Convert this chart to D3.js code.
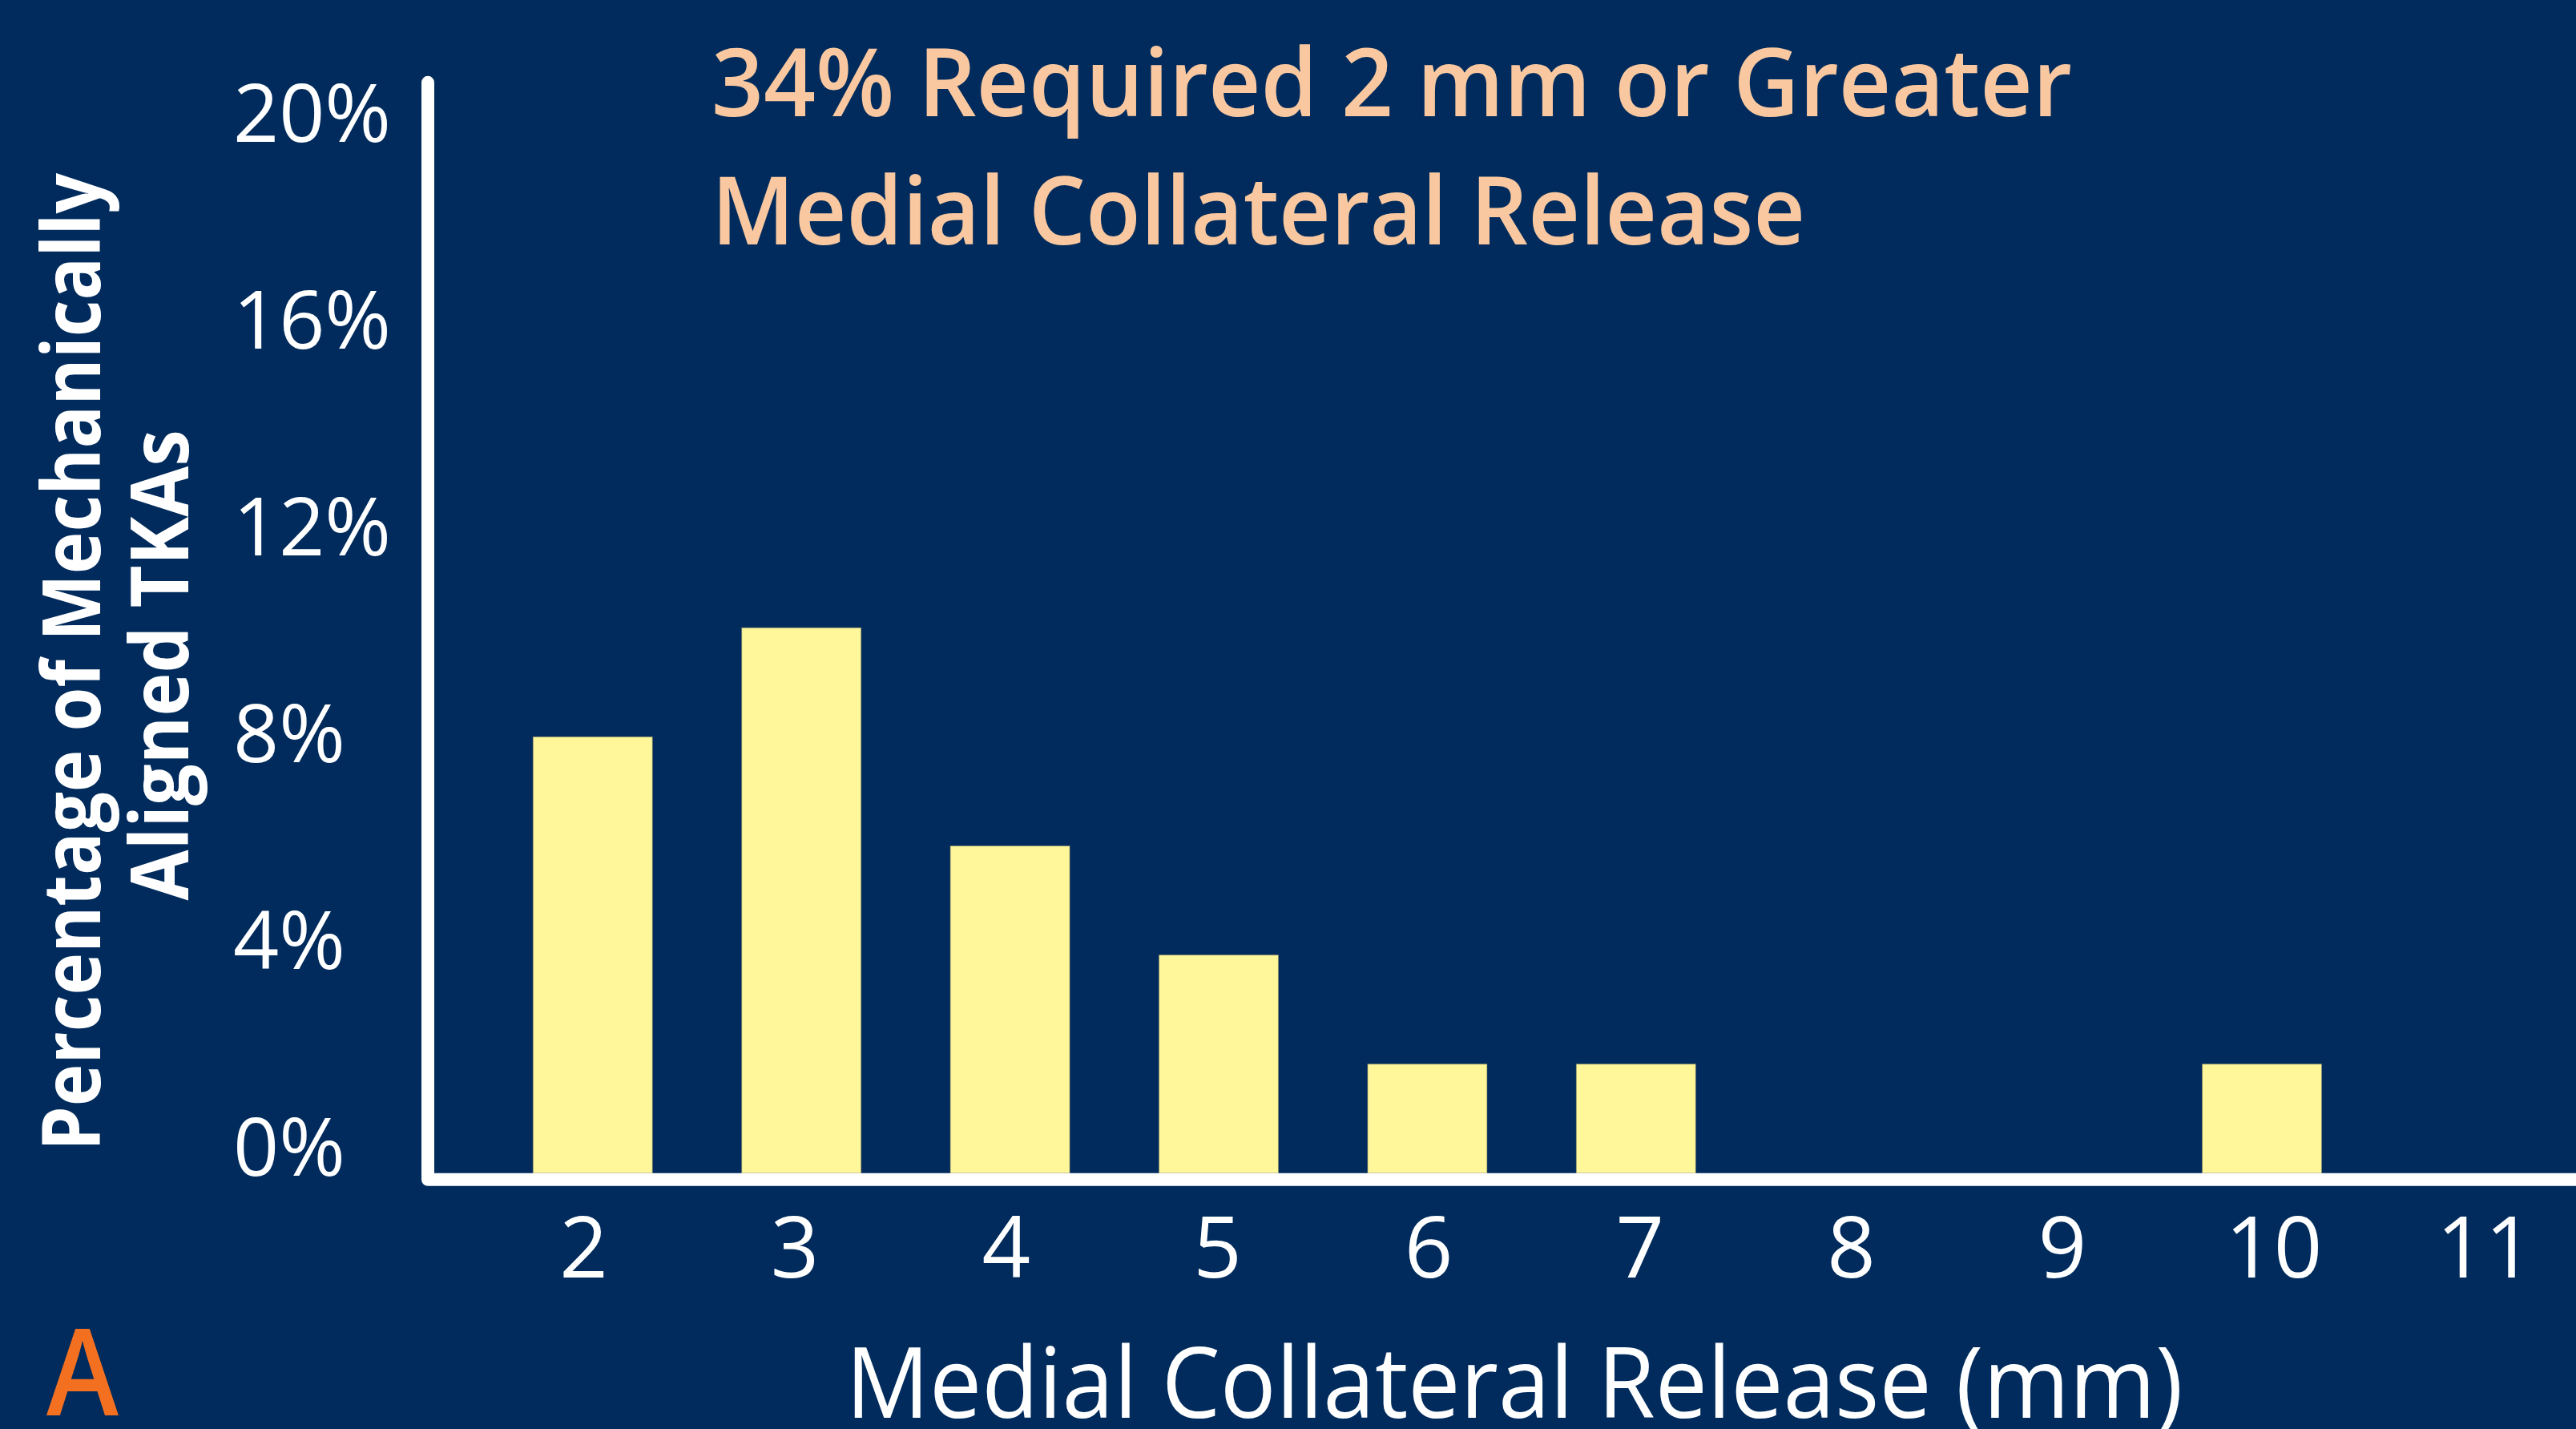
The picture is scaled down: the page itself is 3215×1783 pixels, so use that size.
<!DOCTYPE html>
<html>
<head>
<meta charset="utf-8">
<script src="https://cdn.jsdelivr.net/npm/d3@7"></script>
<style>
  html, body { margin: 0; padding: 0; background: #002B5C; }
  svg { display: block; }
</style>
</head>
<body>
<svg id="chart" width="3215" height="1783"></svg>
<script>
// ---- data ----
const categories = ["2", "3", "4", "5", "6", "7", "8", "9", "10", "11"];
const values = [8, 10, 6, 4, 2, 2, 0, 0, 2, 0];           // percent of TKAs
const yTickValues = [0, 4, 8, 12, 16, 20];
const yTickLabels = ["0%", "4%", "8%", "12%", "16%", "20%"];
const titleLines = ["34% Required 2 mm or Greater", "Medial Collateral Release"];
const yTitleLines = ["Percentage of Mechanically", "Aligned TKAs"];
const xTitle = "Medial Collateral Release (mm)";
const panelLabel = "A";

// ---- layout ----
const W = 3215, H = 1783;
const BG = "#002B5C", BAR = "#FFF799", PEACH = "#FAC8A0", ORANGE = "#F37021";
const svg = d3.select("#chart");
svg.append("rect").attr("width", W).attr("height", H).attr("fill", BG);

const FONT = "'Open Sans', 'Noto Sans', sans-serif";

// bars scale
const x = d3.scaleBand().domain(categories).range([665.3, 3157.9]).paddingInner(0.428).paddingOuter(0);
const y = d3.scaleLinear().domain([0, 20]).range([1463.8, 102.8]);

// label scales (labels in the figure sit slightly apart from the bar grid)
const xLab = d3.scalePoint().domain(categories).range([728, 3101]);
const yLab = d3.scaleLinear().domain([0, 20]).range([1466, 176]);

function fit(sel, len) {
  sel.attr("textLength", len).attr("lengthAdjust", "spacingAndGlyphs");
}

// bars
svg.append("g").selectAll("rect")
  .data(categories.map((c, i) => ({ c, v: values[i] })).filter(d => d.v > 0))
  .join("rect")
  .attr("x", d => x(d.c))
  .attr("width", x.bandwidth())
  .attr("y", d => y(d.v))
  .attr("height", d => y(0) - y(d.v))
  .attr("fill", BAR)
  .attr("stroke", "#8f8a6a")
  .attr("stroke-width", 1)
  .attr("stroke-opacity", 0.5);

// axis lines (L-shape)
const ax0 = 534, ay0 = y(0) + 8;
svg.append("path")
  .attr("d", `M${ax0},${y(20)} V${ay0} H${W + 20}`)
  .attr("fill", "none")
  .attr("stroke", "#ffffff")
  .attr("stroke-width", 16)
  .attr("stroke-linecap", "round")
  .attr("stroke-linejoin", "round");

// y tick labels
const yAxis = d3.axisLeft(yLab).tickValues(yTickValues)
  .tickFormat((d, i) => yTickLabels[i]).tickSize(0).tickPadding(0);
const gy = svg.append("g").attr("transform", "translate(291,0)").call(yAxis);
gy.select(".domain").remove();
gy.selectAll("text")
  .attr("x", 0).attr("dy", 0)
  .attr("text-anchor", "start")
  .attr("fill", "#ffffff")
  .style("font-family", FONT)
  .style("font-size", "100px")
  .style("font-weight", 400);

// x tick labels
const xAxis = d3.axisBottom(xLab).tickSize(0).tickPadding(0);
const gx = svg.append("g").attr("transform", "translate(0,1594)").call(xAxis);
gx.select(".domain").remove();
gx.selectAll("text")
  .attr("y", 0).attr("dy", 0)
  .attr("fill", "#ffffff")
  .style("font-family", FONT)
  .style("font-size", "106px")
  .style("font-weight", 400);

// title
const titleSizes = [1698, 1365];
const titleBase = [145, 305];
titleLines.forEach((t, i) => {
  svg.append("text")
    .attr("x", 888).attr("y", titleBase[i])
    .attr("fill", PEACH)
    .style("font-family", FONT)
    .style("font-size", "118px")
    .style("font-weight", 600)
    .text(t)
    .call(fit, titleSizes[i]);
});

// y axis title (rotated)
const yT = [{ bx: 125, cy: 826, len: 1220 }, { bx: 235, cy: 830, len: 587 }];
yTitleLines.forEach((t, i) => {
  svg.append("text")
    .attr("transform", `translate(${yT[i].bx},${yT[i].cy}) rotate(-90)`)
    .attr("text-anchor", "middle")
    .attr("fill", "#ffffff")
    .style("font-family", FONT)
    .style("font-size", "101px")
    .style("font-weight", 700)
    .text(t)
    .call(fit, yT[i].len);
});

// x axis title
svg.append("text")
  .attr("x", 1890).attr("y", 1769)
  .attr("text-anchor", "middle")
  .attr("fill", "#ffffff")
  .style("font-family", FONT)
  .style("font-size", "123px")
  .style("font-weight", 400)
  .text(xTitle)
  .call(fit, 1669);

// panel label
svg.append("text")
  .attr("x", 58).attr("y", 1766)
  .attr("fill", ORANGE)
  .style("font-family", FONT)
  .style("font-size", "150px")
  .style("font-weight", 600)
  .text(panelLabel)
  .call(fit, 90);
</script>
</body>
</html>
